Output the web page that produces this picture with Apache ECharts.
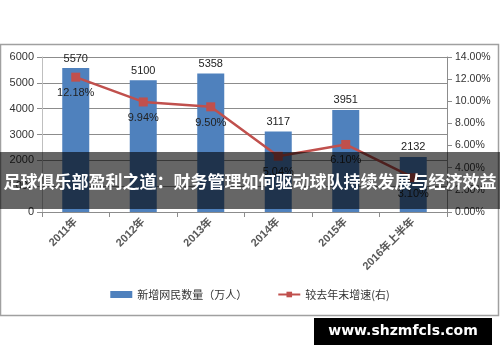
<!DOCTYPE html>
<html><head><meta charset="utf-8">
<script src="https://cdn.jsdelivr.net/npm/echarts@6/dist/echarts.min.js"></script>
<style>html,body{margin:0;padding:0;background:#fff}#c{width:500px;height:362px}</style>
</head><body><div id="c"></div>
<script>
const categories = ['2011年','2012年','2013年','2014年','2015年','2016年上半年'];
const newUsers = [5570, 5100, 5358, 3117, 3951, 2132];
const growthRate = [12.18, 9.94, 9.50, 5.04, 6.10, 3.10];
const leftTicks = [0, 1000, 2000, 3000, 4000, 5000, 6000];
const rightTicks = [0, 2, 4, 6, 8, 10, 12, 14];
const titleText = '足球俱乐部盈利之道：财务管理如何驱动球队持续发展与经济效益';
const watermark = 'www.shzmfcls.com';

const chart = echarts.init(document.getElementById('c'), null, {renderer:'canvas'});
const axisFont = {fontFamily:'Liberation Sans, Arial, sans-serif', fontSize:11, color:'#333'};
chart.setOption({
  animation:false,
  grid:{left:42, right:53, top:57, bottom:150},
  legend:{
    bottom:57, left:'center', itemGap:30, itemWidth:22, itemHeight:7,
    textStyle:{fontFamily:'Noto Sans CJK SC, sans-serif', fontSize:11, color:'#333'},
    data:[{name:'新增网民数量（万人）', icon:'rect'}, {name:'较去年末增速(右)'}]
  },
  xAxis:{
    type:'category', data:categories,
    axisLine:{lineStyle:{color:'#8c8c8c', width:1}},
    axisTick:{show:true, length:5, lineStyle:{color:'#8c8c8c'}},
    axisLabel:{rotate:45, margin:8, fontFamily:'Liberation Sans, Noto Sans CJK SC, sans-serif', fontSize:11, fontWeight:'bold', color:'#595959'}
  },
  yAxis:[
    {type:'value', min:0, max:6000, interval:1000,
     axisLine:{show:true, lineStyle:{color:'#bfbfbf'}},
     axisTick:{show:true, length:5, inside:false, lineStyle:{color:'#8c8c8c'}},
     splitLine:{lineStyle:{color:'#8c8c8c'}},
     axisLabel:Object.assign({margin:8, formatter:v=>leftTicks.includes(v)?String(v):''}, axisFont)},
    {type:'value', min:0, max:14, interval:2,
     axisLine:{show:true, lineStyle:{color:'#8c8c8c'}},
     axisTick:{show:true, length:5, lineStyle:{color:'#8c8c8c'}},
     splitLine:{show:false},
     axisLabel:Object.assign({margin:8, formatter:v=>rightTicks.includes(v)?v.toFixed(2)+'%':''}, axisFont, {fontSize:10.5})}
  ],
  series:[
    {name:'新增网民数量（万人）', type:'bar', data:newUsers, barWidth:'40%',
     itemStyle:{color:'#4f81bd'},
     label:{show:true, position:'top', distance:4, fontFamily:'Liberation Sans, Arial, sans-serif', fontSize:11, color:'#222'}},
    {name:'较去年末增速(右)', type:'line', yAxisIndex:1, data:growthRate,
     symbol:'rect', symbolSize:9, lineStyle:{color:'#c0504d', width:2.5}, itemStyle:{color:'#c0504d'},
     label:{show:true, position:'bottom', distance:6, fontFamily:'Liberation Sans, Arial, sans-serif', fontSize:11, color:'#222',
       formatter:p=>p.value.toFixed(2)+'%'}}
  ],
  graphic:[
    {type:'rect', z:50, shape:{x:0.5, y:44.5, width:498, height:271}, style:{fill:'none', stroke:'#a0a0a0', lineWidth:1.5}},
    {type:'rect', z:100, shape:{x:0, y:152, width:500, height:57}, style:{fill:'rgba(0,0,0,0.6)'}},
    {type:'text', z:101, x:250, y:182, style:{text:titleText, fill:'#fff', font:'bold 17px "Noto Sans CJK SC", sans-serif', textAlign:'center', textVerticalAlign:'middle'}},
    {type:'rect', z:100, shape:{x:314, y:318, width:178, height:27}, style:{fill:'#000'}},
    {type:'text', z:101, x:403, y:331.5, style:{text:watermark, fill:'#fff', font:'bold 14px "DejaVu Sans", sans-serif', textAlign:'center', textVerticalAlign:'middle'}}
  ]
});
</script></body></html>
